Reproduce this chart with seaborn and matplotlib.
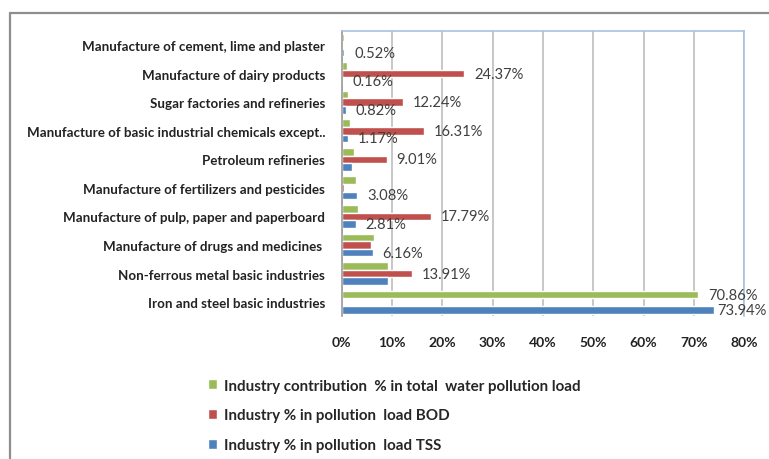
import matplotlib
matplotlib.use("Agg")
import matplotlib.pyplot as plt
from matplotlib.lines import Line2D
import seaborn as sns
import pandas as pd

industries = [
    "Manufacture of cement, lime and plaster",
    "Manufacture of dairy products",
    "Sugar factories and refineries",
    "Manufacture of basic industrial chemicals except..",
    "Petroleum refineries",
    "Manufacture of fertilizers and pesticides",
    "Manufacture of pulp, paper and paperboard",
    "Manufacture of drugs and medicines ",
    "Non-ferrous metal basic industries",
    "Iron and steel basic industries",
]
series_names = [
    "Industry contribution  % in total  water pollution load",
    "Industry % in pollution  load BOD",
    "Industry % in pollution  load TSS",
]
total_load = [0.45, 1.1, 1.3, 1.7, 2.4, 2.8, 3.3, 6.4, 9.3, 70.86]
bod_load = [0.05, 24.37, 12.24, 16.31, 9.01, 0.4, 17.79, 5.8, 13.91, 0.2]
tss_load = [0.52, 0.16, 0.82, 1.17, 2.0, 3.08, 2.81, 6.16, 9.3, 73.94]

# which bars carry a value label
total_labeled = [False] * 9 + [True]
bod_labeled = [False, True, True, True, True, False, True, False, True, False]
tss_labeled = [True, True, True, True, False, True, True, True, False, True]

colors = ["#9BBB59", "#C0504D", "#4F81BD"]

df = pd.DataFrame({
    "industry": industries * 3,
    "series": [series_names[0]] * 10 + [series_names[1]] * 10 + [series_names[2]] * 10,
    "value": total_load + bod_load + tss_load,
})

sns.set_style("white")
plt.rcParams["font.family"] = ["Lato", "DejaVu Sans"]

fig = plt.figure(figsize=(7.69, 4.60), dpi=100)
ax = fig.add_axes([0.4443, 0.3100, 0.5236, 0.6209])

sns.barplot(data=df, y="industry", x="value", hue="series",
            order=industries, hue_order=series_names,
            palette=colors, orient="h", width=0.8, saturation=1,
            errorbar=None, ax=ax, legend=True)

ax.set_xlim(0, 80)
ax.set_xticks(range(0, 81, 10))
ax.set_xticklabels([f"{v}%" for v in range(0, 81, 10)],
                   fontsize=10, fontweight="bold", color="#222222")
ax.set_yticks(range(len(industries)))
ax.set_yticklabels(industries, fontsize=9.6, fontweight="bold", color="#222222")
ax.tick_params(axis="y", length=0, pad=12)
ax.tick_params(axis="x", length=0, pad=14)
ax.set_xlabel("")
ax.set_ylabel("")

ax.grid(axis="x", color="#BDBDBD", linewidth=1.2)
ax.set_axisbelow(True)
for side in ["top", "right"]:
    ax.spines[side].set_color("#A8C2E0")
    ax.spines[side].set_linewidth(1.2)
ax.spines["bottom"].set_visible(False)
ax.spines["left"].set_color("#9A9A9A")
ax.spines["left"].set_linewidth(1.2)

# value labels; the long bars near the right edge get a tighter gap
flags = [total_labeled, bod_labeled, tss_labeled]
values = [total_load, bod_load, tss_load]
for cont, vals, flg in zip(ax.containers, values, flags):
    near = [f and v > 72 for v, f in zip(vals, flg)]
    main = [f"{v:.2f}%" if f and not n else "" for v, f, n in zip(vals, flg, near)]
    edge = [f"{v:.2f}%" if n else "" for v, n in zip(vals, near)]
    ax.bar_label(cont, labels=main, padding=7, fontsize=10.6, color="#404040")
    if any(near):
        ax.bar_label(cont, labels=edge, padding=2.5, fontsize=10.6,
                     color="#404040")

handles, labels = ax.get_legend_handles_labels()
ax.legend(handles, labels, loc="upper left", frameon=False,
          bbox_to_anchor=(0.262, 0.188), bbox_transform=fig.transFigure,
          prop={"weight": "bold", "size": 10.9},
          handlelength=0.65, handleheight=0.65, handletextpad=0.45,
          labelspacing=1.05, borderaxespad=0)

# outer chart frame
fig.add_artist(Line2D([0.013, 1.0], [0.970, 0.970], color="#8E8E8E",
                      linewidth=1.6, transform=fig.transFigure))
fig.add_artist(Line2D([0.013, 0.013], [0.0, 0.970], color="#8E8E8E",
                      linewidth=1.6, transform=fig.transFigure))

fig.savefig("out.png", dpi=100)
